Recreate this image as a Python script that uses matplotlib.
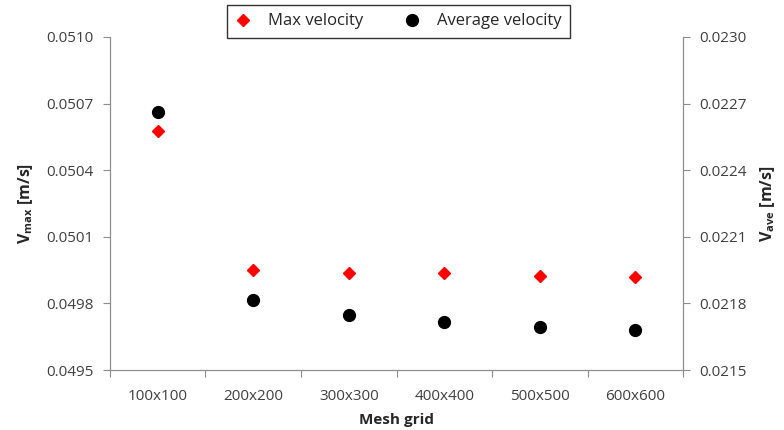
import matplotlib.pyplot as plt
import numpy as np

plt.rcParams['font.family'] = ['Open Sans', 'DejaVu Sans']

# --- Data ---
mesh = ['100x100', '200x200', '300x300', '400x400', '500x500', '600x600']
v_max = [0.050577, 0.049952, 0.049937, 0.049937, 0.049925, 0.049919]
v_ave = [0.022661, 0.021815, 0.021746, 0.021715, 0.021694, 0.021679]

x = np.arange(len(mesh))
axis_grey = '#8c8c8c'
text_grey = '#404040'

fig = plt.figure(figsize=(7.84, 4.30), dpi=100)
ax = fig.add_axes([0.1403, 0.1395, 0.7309, 0.7745])
ax2 = ax.twinx()

h1, = ax.plot(x, v_max, linestyle='none', marker='D', markersize=6.5,
              color='#ff0000', label='Max velocity')
h2, = ax2.plot(x, v_ave, linestyle='none', marker='o', markersize=8.5,
               color='black', label='Average velocity')

ax.set_xlim(-0.5, len(mesh) - 0.5)
ax.set_ylim(0.0495, 0.0510)
ax2.set_ylim(0.0215, 0.0230)
ax.set_yticks(np.arange(0.0495, 0.05101, 0.0003))
ax2.set_yticks(np.arange(0.0215, 0.02301, 0.0003))
ax.yaxis.set_major_formatter(plt.FormatStrFormatter('%.4f'))
ax2.yaxis.set_major_formatter(plt.FormatStrFormatter('%.4f'))

# category boundaries get tick marks, labels sit in the middle
ax.set_xticks(np.arange(-0.5, len(mesh)), labels=[''] * (len(mesh) + 1))
ax.set_xticks(x, labels=mesh, minor=True)
ax.tick_params(axis='x', which='minor', length=0, pad=14)

for a in (ax, ax2):
    a.spines['top'].set_visible(False)
    for s in ('left', 'right', 'bottom'):
        a.spines[s].set_color(axis_grey)
    a.tick_params(which='major', color=axis_grey, length=5, labelsize=11,
                  labelcolor=text_grey)
    a.tick_params(which='minor', labelsize=11, labelcolor=text_grey)
ax.tick_params(axis='y', pad=7)
ax2.tick_params(axis='y', pad=7)

ax.set_ylabel(r'V$_{\mathregular{max}}$ [m/s]', fontsize=11.5, fontweight='bold',
              color='#262626', labelpad=8)
ax2.set_ylabel(r'V$_{\mathregular{ave}}$ [m/s]', fontsize=11.5, fontweight='bold',
               color='#262626', rotation=90, labelpad=8)
ax.set_xlabel('Mesh grid', fontsize=11, fontweight='bold', color='#262626',
              labelpad=6)

leg = fig.legend(handles=[h1, h2], loc='upper center', bbox_to_anchor=(0.508, 0.988),
                 ncol=2, fontsize=12, frameon=True, fancybox=False,
                 handlelength=1.0, handletextpad=1.0, columnspacing=2.4,
                 borderpad=0.5, borderaxespad=0)
leg.get_frame().set_edgecolor('black')
leg.get_frame().set_linewidth(1.0)
for t in leg.get_texts():
    t.set_color('#262626')

fig.savefig('out.png', dpi=100)
